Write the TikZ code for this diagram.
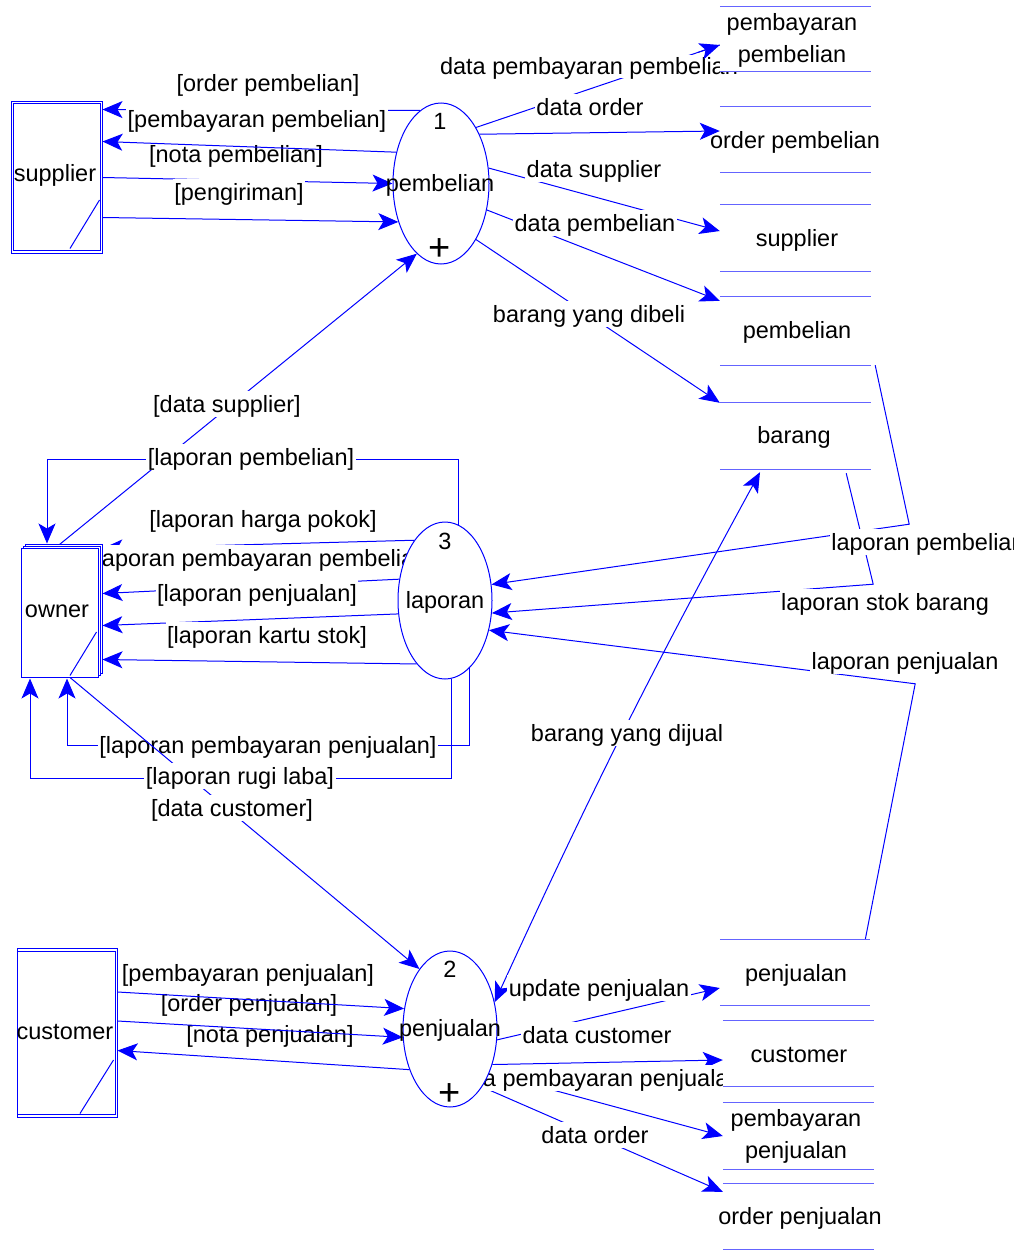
\documentclass[tikz,border=0pt]{standalone}
\usepackage{fontspec}
\setmainfont{Liberation Sans}
\usetikzlibrary{arrows.meta,shapes.geometric}
\pgfdeclarelayer{lone}
\pgfdeclarelayer{ltwo}
\pgfdeclarelayer{lthree}
\pgfdeclarelayer{lfour}
\pgfsetlayers{lone,ltwo,lthree,lfour,main}
\definecolor{storeblue}{RGB}{100,100,255}
\begin{document}
\begin{tikzpicture}[x=1pt,y=-1pt,
  font=\fontsize{23.5}{32}\selectfont,
  conn/.style={draw=blue,line width=1pt},
  tipb/.tip={Stealth[length=20pt,width=17pt,inset=5pt]},
  arr/.style={conn,-tipb},
  dblarr/.style={conn,tipb-tipb},
  lbl/.style={fill=white,inner sep=1.5pt,text height=19.5pt,text depth=3.5pt},
  plain/.style={inner sep=0pt,text height=19.5pt,text depth=3.5pt},
  proc/.style={ellipse,draw=blue,line width=1pt,fill=white,inner sep=0pt},
  ent/.style={draw=blue,fill=white,line width=1pt,inner sep=0pt},
  storebox/.style={fill=white,inner sep=0pt,minimum width=151pt},
  sline/.style={draw=storeblue,line width=1.3pt},
  pluss/.style={inner sep=0pt,font=\fontsize{38}{38}\selectfont}
]
\useasboundingbox (0,0) rectangle (1013,1250);

% ---------- processes ----------
\node[proc,minimum width=96pt,minimum height=161pt] (p1) at (441,183.5) {};
\node[plain] (p1num) at (440,121) {1};
\node[plain] (p1txt) at (440,183) {pembelian};
\node[pluss] (p1plus) at (440,250) {+};

\node[proc,minimum width=94pt,minimum height=157pt] (p3) at (445,600.5) {};
\node[plain] (p3num) at (445,541) {3};
\node[plain] (p3txt) at (445,600) {laporan};

\node[proc,minimum width=94pt,minimum height=156pt] (p2) at (450,1029) {};
\node[plain] (p2num) at (450,969) {2};
\node[plain] (p2txt) at (450,1028) {penjualan};
\node[pluss] (p2plus) at (450,1095) {+};

% ---------- external entities ----------
\node[ent,minimum width=91pt,minimum height=152pt] (sup) at (56.5,177) {};
\draw[draw=blue,line width=0.9pt] ([shift={(2.5pt,-3pt)}]sup.north west) rectangle ([shift={(-2pt,3pt)}]sup.south east);
\node[plain] (supt) at (55,173) {supplier};
\draw[conn] ([xshift=-3pt,yshift=-23pt]sup.east) -- ([xshift=13.5pt,yshift=5pt]sup.south);

\draw[draw=blue,fill=white,line width=1pt] (25,544) rectangle (102,673);
\draw[draw=blue,fill=white,line width=1pt] (23,546) rectangle (100,675);
\node[draw=blue,fill=white,line width=1pt,inner sep=0pt,minimum width=77pt,minimum height=129pt] (own) at (59.5,612.5) {};
\node[plain] (ownt) at (57,609) {owner};
\draw[conn] ([xshift=-2pt,yshift=-19.5pt]own.east) -- ([xshift=10.5pt,yshift=2pt]own.south);

\node[ent,minimum width=100pt,minimum height=169pt] (cus) at (67,1032.5) {};
\draw[draw=blue,line width=0.9pt] ([shift={(1pt,-4pt)}]cus.north west) rectangle ([shift={(-2.5pt,3pt)}]cus.south east);
\node[plain] (cust) at (65,1031) {customer};
\draw[conn] ([xshift=-4pt,yshift=-27.5pt]cus.east) -- ([xshift=13pt,yshift=4pt]cus.south);

% ---------- data stores ----------
\node[storebox,minimum height=64pt] (s1) at (795.5,39) {};
\draw[sline] (s1.north west) -- (s1.north east) (s1.south west) -- (s1.south east);
\node[align=center,inner sep=0pt] (s1t) at (792,40) {pembayaran\\pembelian};

\node[storebox,minimum height=65pt] (s2) at (795.5,139.5) {};
\draw[sline] (s2.north west) -- (s2.north east) (s2.south west) -- (s2.south east);
\node[plain] (s2t) at (795,140) {order pembelian};

\node[storebox,minimum height=66pt] (s3) at (795.5,238) {};
\draw[sline] (s3.north west) -- (s3.north east) (s3.south west) -- (s3.south east);
\node[plain] (s3t) at (797,238) {supplier};

\node[storebox,minimum height=68pt] (s4) at (795.5,331) {};
\draw[sline] (s4.north west) -- (s4.north east) (s4.south west) -- (s4.south east);
\node[plain] (s4t) at (797,330) {pembelian};

\node[storebox,minimum height=66pt] (s5) at (795.5,436) {};
\draw[sline] (s5.north west) -- (s5.north east) (s5.south west) -- (s5.south east);
\node[plain] (s5t) at (794,435) {barang};

\node[storebox,minimum width=150pt,minimum height=65pt] (s6) at (795,972.5) {};
\draw[sline] (s6.north west) -- (s6.north east) (s6.south west) -- (s6.south east);
\node[plain] (s6t) at (796,973) {penjualan};

\node[storebox,minimum height=65pt] (s7) at (798.5,1053.5) {};
\draw[sline] (s7.north west) -- (s7.north east) (s7.south west) -- (s7.south east);
\node[plain] (s7t) at (799,1054) {customer};

\node[storebox,minimum height=66pt] (s8) at (798.5,1136) {};
\draw[sline] (s8.north west) -- (s8.north east) (s8.south west) -- (s8.south east);
\node[align=center,inner sep=0pt] (s8t) at (796,1136) {pembayaran\\penjualan};

\node[storebox,minimum height=65pt] (s9) at (798.5,1216.5) {};
\draw[sline] (s9.north west) -- (s9.north east) (s9.south west) -- (s9.south east);
\node[plain] (s9t) at (800,1216) {order penjualan};

% ---------- connectors under labels ----------
\begin{pgfonlayer}{lone}
% supplier <-> pembelian
\draw[arr] (p1.106) -- ([yshift=-9pt]sup.north east);
\draw[arr] ([yshift=-77pt]sup.north east) -- (p1.180);
\draw[arr] ([yshift=-117pt]sup.north east) -- (p1.222);
% pembelian -> stores
\draw[conn] (p1.58) -- ([yshift=-6pt]s1.west);
\draw[arr] (p1.52) -- ([yshift=8.5pt]s2.west);
\draw[arr] (p1.18) -- ([yshift=7pt]s3.west);
\draw[arr] (p1.330) -- ([yshift=-4pt]s4.north west);
\draw[arr] (p1.302) -- (s5.north west);
% owner -> pembelian
\draw[arr] ([yshift=3pt]own.north) -- (p1.251);
% laporan -> owner
\draw[arr] (p3.80) -- ++(0,-65) -| ([xshift=-12.5pt,yshift=4pt]own.north);
\draw[arr] (p3.117) -- ([xshift=4pt,yshift=-1pt]own.north east);
\draw[arr] (p3.155) -- ([xshift=4pt,yshift=-46pt]own.north east);
\draw[arr] (p3.196) -- ([xshift=4pt,yshift=-78pt]own.north east);
\draw[arr] (p3.246) -- ([xshift=4pt,yshift=-112pt]own.north east);
\draw[arr] (p3.290) -- ++(0,77) -| ([xshift=7.5pt,yshift=-1pt]own.south);
\draw[arr] (p3.275) -- ++(0,100) -| ([xshift=-29.5pt,yshift=-1pt]own.south);
% stores -> laporan
\draw[arr] ([xshift=4pt]s4.south east) -- ++(34,159) -- (p3.19);
\draw[arr] ([xshift=-25pt,yshift=-4pt]s5.south east) -- ++(27,111) -- (p3.345);
\draw[arr] ([xshift=-5pt]s6.north east) -- ++(50,-256) -- (p3.326);
% barang yang dijual
\draw[dblarr] (p2.31) to[bend left=2] ([xshift=-35.5pt,yshift=-3pt]s5.south);
% penjualan -> stores
\draw[arr] (p2.347) -- ([yshift=-15.5pt]s6.west);
\draw[arr] (p2.320) -- ([yshift=-6.5pt]s7.west);
\draw[arr] (p2.312) -- (s8.west);
\draw[arr] (p2.299) -- ([yshift=-8pt]s9.north west);
\end{pgfonlayer}

% ---------- labels ----------
\begin{pgfonlayer}{ltwo}
\node[lbl] (la1) at (268,83) {[order pembelian]};
\node[lbl] (la2) at (257,119) {[pembayaran pembelian]};
\node[lbl] (la3) at (236,154) {[nota pembelian]};
\node[lbl] (la4) at (239,192) {[pengiriman]};
\node[lbl,inner ysep=0pt] (lb1) at (589,66) {data pembayaran pembelian};
\node[lbl] (lb2) at (590,107) {data order};
\node[lbl] (lb3) at (594,169) {data supplier};
\node[lbl] (lb4) at (595,223) {data pembelian};
\node[lbl] (lb5) at (589,314) {barang yang dibeli};
\node[lbl] (lc1) at (227,404) {[data supplier]};
\node[lbl] (lc2) at (251,457) {[laporan pembelian]};
\node[lbl] (lc3) at (263,519) {[laporan harga pokok]};
\node[lbl] (lc4) at (262,558) {[laporan pembayaran pembelian]};
\node[lbl] (lc5) at (257,593) {[laporan penjualan]};
\node[lbl] (lc6) at (267,635) {[laporan kartu stok]};
\node[lbl] (lc7) at (268,745) {[laporan pembayaran penjualan]};
\node[lbl] (ld1) at (928,542) {laporan pembelian};
\node[lbl] (ld2) at (885,602) {laporan stok barang};
\node[lbl] (ld3) at (905,661) {laporan penjualan};
\node[lbl] (ld4) at (627,733) {barang yang dijual};
\node[lbl] (le1) at (248,973) {[pembayaran penjualan]};
\node[lbl] (le2) at (249,1003) {[order penjualan]};
\node[lbl] (le3) at (270,1034) {[nota penjualan]};
\node[lbl] (lf1) at (599,988) {update penjualan};
\node[lbl] (lf2) at (597,1035) {data customer};
\node[lbl] (lf3) at (596,1078) {data pembayaran penjualan};
\node[lbl] (lf4) at (595,1135) {data order};
\end{pgfonlayer}

% ---------- connectors over some labels ----------
\begin{pgfonlayer}{lthree}
\draw[arr,shorten <=234pt] (p1.58) -- ([yshift=-6pt]s1.west);
\draw[arr] (p1.145) -- ([yshift=-41pt]sup.north east);
\draw[arr] ([xshift=10.5pt]own.south) -- (p2.117);
\draw[arr] ([yshift=40.5pt]cus.east) -- (p2.156);
\draw[arr] ([yshift=11.5pt]cus.east) -- (p2.190);
\draw[arr] (p2.225) -- ([yshift=-18pt]cus.east);
\end{pgfonlayer}

\begin{pgfonlayer}{lfour}
\node[lbl] (lg1) at (240,776) {[laporan rugi laba]};
\node[lbl] (lg2) at (232,808) {[data customer]};
\end{pgfonlayer}
\end{tikzpicture}
\end{document}
